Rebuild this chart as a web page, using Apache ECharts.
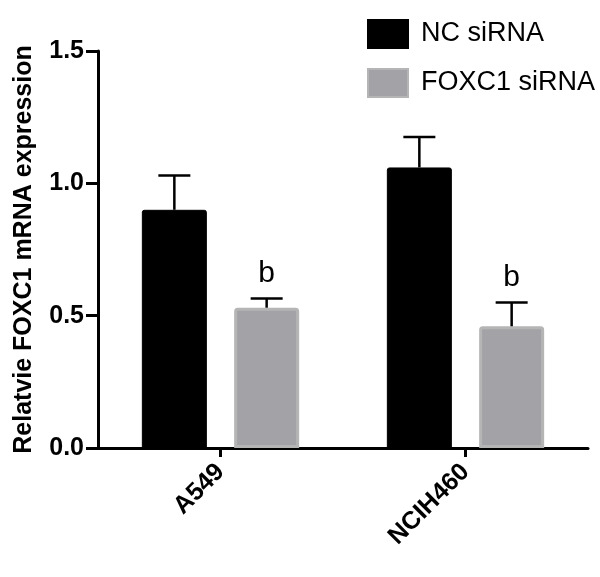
<!DOCTYPE html>
<html>
<head>
<meta charset="utf-8">
<script src="https://cdn.jsdelivr.net/npm/echarts@6/dist/echarts.min.js"></script>
<style>
  html, body { margin: 0; padding: 0; background: #fff; }
  #chart { width: 600px; height: 577px; }
</style>
</head>
<body>
<div id="chart"></div>
<script>
const categories = ['A549', 'NCIH460']
const ncMean = [0.90, 1.06]
const ncErr = [0.13, 0.115]
const foxMean = [0.53, 0.46]
const foxErr = [0.035, 0.09]
const sigLabels = ['b', 'b']
const yTicks = [0, 0.5, 1.0, 1.5]

const BAR_W = 65
const BAR_GAP = 0.42
const offset = (BAR_W * (1 + BAR_GAP)) / 2
const font = 'Liberation Sans, Arial, sans-serif'

const errorSeries = (name, means, errs, shift, labels) => ({
  type: 'custom',
  name,
  z: 5,
  data: means.map((m, i) => [i, m, m + errs[i]]),
  encode: { x: 0, y: [1, 2] },
  renderItem: (params, api) => {
    const base = api.coord([api.value(0), api.value(1)])
    const top = api.coord([api.value(0), api.value(2)])
    const x = base[0] + shift
    const children = [
      { type: 'line', shape: { x1: x, y1: base[1], x2: x, y2: top[1] }, style: { stroke: '#000', lineWidth: 2.5 } },
      { type: 'line', shape: { x1: x - 16, y1: top[1], x2: x + 16, y2: top[1] }, style: { stroke: '#000', lineWidth: 2.5 } }
    ]
    if (labels) {
      children.push({
        type: 'text',
        style: {
          x, y: top[1] - 10, text: labels[params.dataIndex],
          fill: '#000', font: `30px ${font}`, textAlign: 'center', textVerticalAlign: 'bottom'
        }
      })
    }
    return { type: 'group', children }
  }
})

const chart = echarts.init(document.getElementById('chart'))
chart.setOption({
  animation: false,
  backgroundColor: '#fff',
  textStyle: { fontFamily: font },
  legend: {
    data: ['NC siRNA', 'FOXC1 siRNA'],
    orient: 'vertical',
    left: 362,
    top: 14,
    icon: 'rect',
    itemWidth: 40,
    itemHeight: 28,
    itemGap: 19,
    textStyle: { fontSize: 27, color: '#000', padding: [0, 0, 0, 8] }
  },
  grid: { left: 98, right: 12, top: 51, bottom: 129, outerBoundsMode: 'none' },
  xAxis: {
    type: 'category',
    data: categories,
    axisLine: { lineStyle: { color: '#000', width: 3 } },
    axisTick: { show: true, alignWithLabel: true, length: 9, lineStyle: { color: '#000', width: 3 } },
    axisLabel: { rotate: 45, color: '#000', fontSize: 25, fontWeight: 'bold', margin: 20 }
  },
  yAxis: {
    type: 'value',
    min: 0,
    max: 1.5,
    interval: 0.5,
    name: 'Relatvie FOXC1 mRNA expression',
    nameLocation: 'middle',
    nameGap: 61,
    nameTextStyle: { fontSize: 25, fontWeight: 'bold', color: '#000' },
    axisLine: { show: true, lineStyle: { color: '#000', width: 3 } },
    axisTick: { show: true, length: 12, lineStyle: { color: '#000', width: 3 } },
    axisLabel: {
      color: '#000', fontSize: 25, fontWeight: 'bold', margin: 14,
      formatter: (v) => (yTicks.includes(v) ? v.toFixed(1) : '')
    },
    splitLine: { show: false }
  },
  series: [
    {
      type: 'bar',
      name: 'NC siRNA',
      data: ncMean,
      barWidth: BAR_W,
      barGap: BAR_GAP * 100 + '%',
      itemStyle: { color: '#000', borderColor: '#000', borderWidth: 1, borderRadius: [2, 2, 0, 0] }
    },
    {
      type: 'bar',
      name: 'FOXC1 siRNA',
      data: foxMean,
      barWidth: BAR_W,
      itemStyle: { color: '#a3a3a7', borderColor: '#b5b5b5', borderWidth: 3, borderRadius: [2, 2, 0, 0] }
    },
    errorSeries('nc-err', ncMean, ncErr, -offset, null),
    errorSeries('fox-err', foxMean, foxErr, offset, sigLabels)
  ]
})
</script>
</body>
</html>
